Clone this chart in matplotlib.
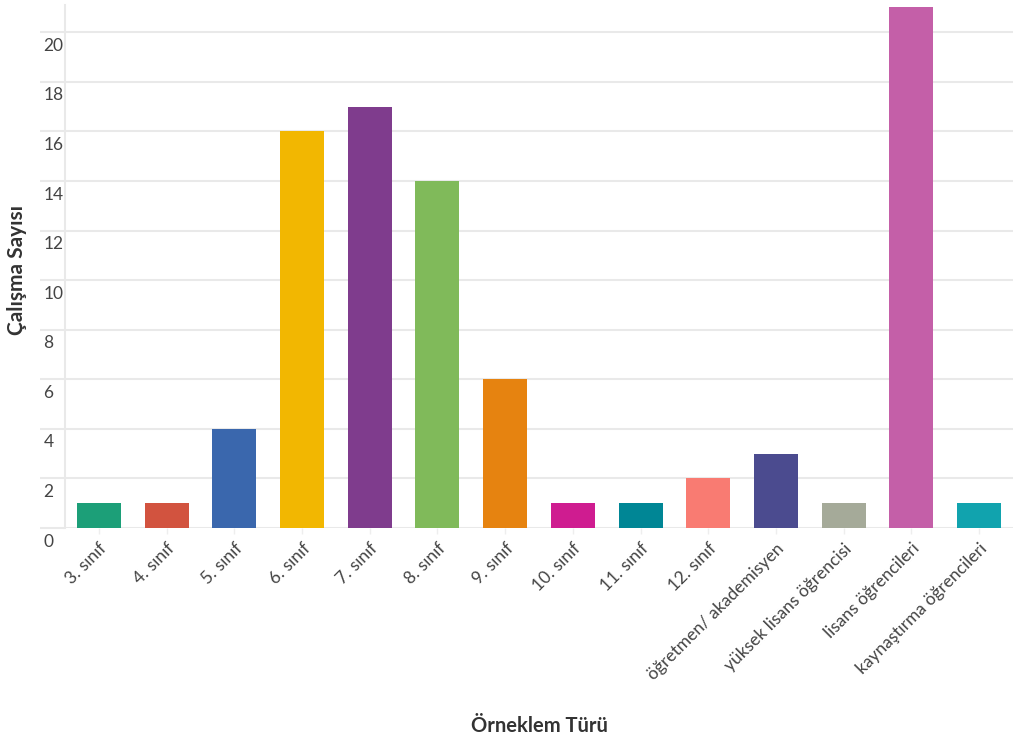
import matplotlib.pyplot as plt
from matplotlib.transforms import ScaledTranslation

# data
categories = ["3. sınıf", "4. sınıf", "5. sınıf", "6. sınıf", "7. sınıf", "8. sınıf",
              "9. sınıf", "10. sınıf", "11. sınıf", "12. sınıf",
              "öğretmen/ akademisyen", "yüksek lisans öğrencisi",
              "lisans öğrencileri", "kaynaştırma öğrencileri"]
counts = [1, 1, 4, 16, 17, 14, 6, 1, 1, 2, 3, 1, 21, 1]
colors = ["#1c9f78", "#d2533f", "#3a67ad", "#f2b701", "#7f3c8d", "#80ba5a",
          "#e68310", "#cf1c90", "#008695", "#f97b72", "#4b4b8f", "#a5aa99",
          "#c45fa8", "#11a3ae"]
yticks = list(range(0, 21, 2))

plt.rcParams['font.family'] = ['Lato', 'DejaVu Sans']

fig = plt.figure(figsize=(10.13, 7.35), dpi=100)
ax = fig.add_axes([65 / 1013, 1 - 528 / 735, 1 - 65 / 1013, (528 - 5) / 735])

x = list(range(len(categories)))
ax.bar(x, counts, width=0.65, color=colors, zorder=3)

ax.set_xlim(-0.5, len(categories) - 0.5)
ax.set_ylim(0, 21.1)
ax.set_yticks(yticks)
ax.yaxis.grid(True, color="#e9e9e9", linewidth=1.5, zorder=0)
ax.set_axisbelow(True)

for s in ["top", "right", "bottom"]:
    ax.spines[s].set_visible(False)
ax.spines["left"].set_color("#e9e9e9")
ax.spines["left"].set_linewidth(1.5)

# y tick labels sit under the grid line, left aligned
ax.tick_params(axis="y", length=18, width=1.5, color="#e9e9e9", pad=-2.5,
               labelsize=12.5, labelcolor="#444444")
offset = ScaledTranslation(0, -4 / 72, fig.dpi_scale_trans)
for lab in ax.get_yticklabels():
    lab.set_horizontalalignment("left")
    lab.set_verticalalignment("top")
    lab.set_transform(lab.get_transform() + offset)

ax.set_xticks(x)
ax.set_xticklabels(categories, rotation=45, ha="right", rotation_mode="anchor")
ax.tick_params(axis="x", length=4, width=1, color="#eeeeee", pad=5,
               labelsize=12.5, labelcolor="#444444")

ax.set_ylabel("Çalışma Sayısı", fontsize=15, fontweight="bold", color="#333333")
ax.set_xlabel("Örneklem Türü", fontsize=14.5, fontweight="bold", color="#333333")
ax.xaxis.set_label_coords(0.5, -(716 - 528) / 523)
ax.yaxis.set_label_coords(-(65 - 27) / 948, (528 - 270) / 523)

fig.savefig("out.png", dpi=100)
